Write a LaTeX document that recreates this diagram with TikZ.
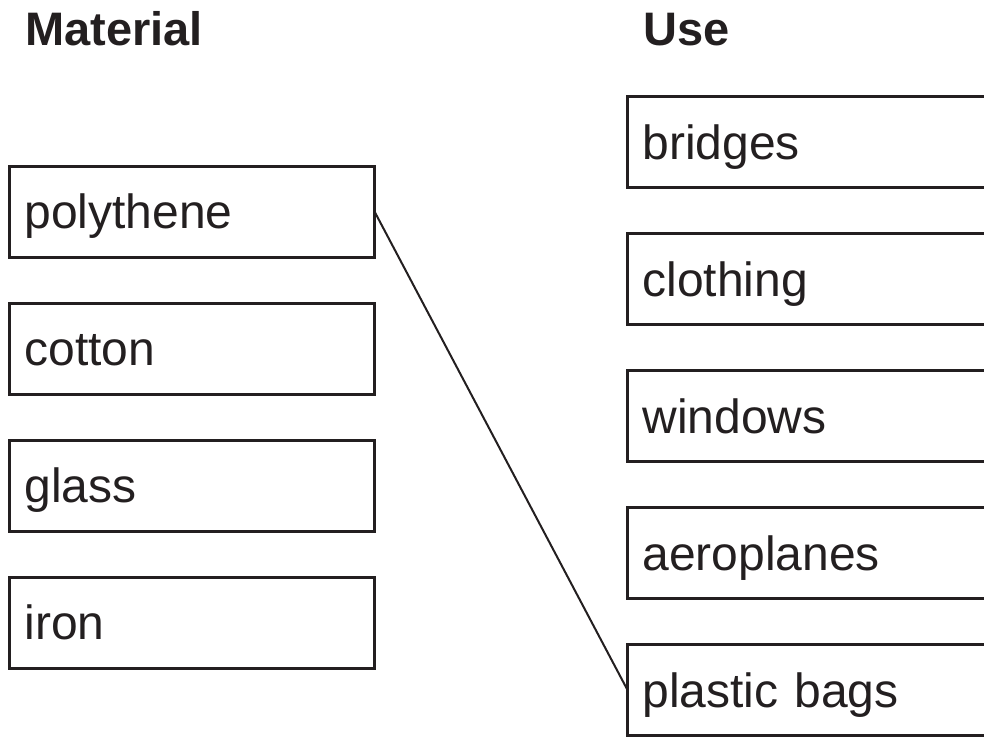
\documentclass[tikz,border=0pt]{standalone}
\usepackage{fontspec}
\setmainfont{Liberation Sans}
\usetikzlibrary{positioning}

\definecolor{ink}{HTML}{231F20}

\tikzset{
  matbox/.style={draw=ink, text=ink, line width=3pt, rectangle, outer sep=0pt, minimum width=365pt,
    minimum height=91pt, inner xsep=15pt, text width=335pt, align=left,
    text height=34pt, text depth=0pt, font=\fontsize{48}{56}\selectfont},
  usagebox/.style={matbox, minimum width=400pt, text width=370pt},
  heading/.style={anchor=base west, inner sep=0pt, text=ink, font=\fontsize{47}{56}\selectfont\bfseries}
}

\begin{document}
\begin{tikzpicture}[x=1pt,y=-1pt,node distance=137pt]
            \clip (0,0) rectangle (984,736);
            \node[heading] (mat) at (25,45) {Material};
            \node[heading] (use) at (643,45) {Use};

            \node[matbox] (poly)   at (192,211.5) {polythene};
            \node[matbox] (cotton) [below of=poly]   {cotton};
            \node[matbox] (glass)  [below of=cotton] {glass};
            \node[matbox] (iron)   [below of=glass]  {iron};

            \node[usagebox] (bridges) at (827.5,142) {bridges};
            \node[usagebox] (cloth)   [below of=bridges] {clothing};
            \node[usagebox] (windows) [below of=cloth]   {windows};
            \node[usagebox] (aero)    [below of=windows] {aeroplanes};
            \node[usagebox] (bags)    [below of=aero]    {plastic bags};

            \draw[ink, line width=2pt] (poly.east) -- (bags.west);
        \end{tikzpicture}
\end{document}
